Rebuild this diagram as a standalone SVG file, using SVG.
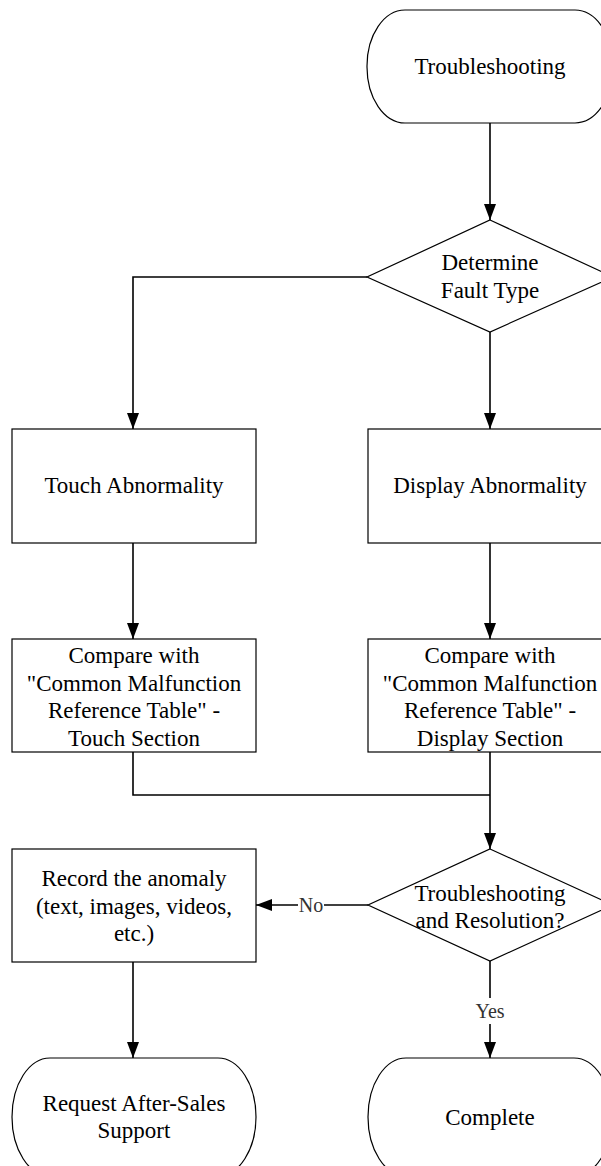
<svg xmlns="http://www.w3.org/2000/svg" width="601" height="1166" viewBox="0 0 601 1166">
<style>
.shape{fill:#fff;stroke:#000;stroke-width:1.2}
.t{font-family:"Liberation Serif","Times New Roman",serif;font-size:23px;fill:#000;text-anchor:middle}
.lbl{font-family:"Liberation Serif","Times New Roman",serif;font-size:20px;fill:#333;text-anchor:middle}
.c{fill:none;stroke:#000;stroke-width:1.6}
</style>
<defs>
<marker id="ah" markerWidth="16" markerHeight="12" refX="16" refY="6" orient="auto" markerUnits="userSpaceOnUse">
<path d="M0,0 L16,6 L0,12 Z" fill="#000"/>
</marker>
</defs>
<rect width="601" height="1166" fill="#fff"/>
<g id="connectors">
<path class="c" d="M490,123 L490,220" marker-end="url(#ah)"/>
<path class="c" d="M367,277 L133,277 L133,429" marker-end="url(#ah)"/>
<path class="c" d="M490,332 L490,429" marker-end="url(#ah)"/>
<path class="c" d="M133,543 L133,639" marker-end="url(#ah)"/>
<path class="c" d="M490,543 L490,639" marker-end="url(#ah)"/>
<path class="c" d="M133,752 L133,795 L490,795"/>
<path class="c" d="M490,752 L490,849" marker-end="url(#ah)"/>
<path class="c" d="M368,905 L256,905" marker-end="url(#ah)"/>
<path class="c" d="M490,961 L490,1058" marker-end="url(#ah)"/>
<path class="c" d="M133,962 L133,1058" marker-end="url(#ah)"/>
<rect x="298" y="893" width="26" height="24" fill="#fff"/>
<text class="lbl" x="311" y="912">No</text>
<rect x="472" y="998" width="36" height="26" fill="#fff"/>
<text class="lbl" x="490" y="1018">Yes</text>
</g>
<g id="start">
<rect class="shape" x="367" y="10" width="246" height="113" rx="38" ry="56"/>
<text class="t" x="490" y="74">Troubleshooting</text>
</g>
<g id="fault-type">
<polygon class="shape" points="490,220 613,277 490,332 367,277"/>
<text class="t" x="490" y="270">Determine</text>
<text class="t" x="490" y="298">Fault Type</text>
</g>
<g id="touch">
<rect class="shape" x="12" y="429" width="244" height="114"/>
<text class="t" x="134" y="493">Touch Abnormality</text>
</g>
<g id="display">
<rect class="shape" x="368" y="429" width="244" height="114"/>
<text class="t" x="490" y="493">Display Abnormality</text>
</g>
<g id="compare-touch">
<rect class="shape" x="12" y="639" width="244" height="113"/>
<text class="t" x="134" y="663">Compare with</text>
<text class="t" x="134" y="691">"Common Malfunction</text>
<text class="t" x="134" y="718">Reference Table" -</text>
<text class="t" x="134" y="746">Touch Section</text>
</g>
<g id="compare-display">
<rect class="shape" x="368" y="639" width="244" height="113"/>
<text class="t" x="490" y="663">Compare with</text>
<text class="t" x="490" y="691">"Common Malfunction</text>
<text class="t" x="490" y="718">Reference Table" -</text>
<text class="t" x="490" y="746">Display Section</text>
</g>
<g id="resolved">
<polygon class="shape" points="490,849 613,905 490,961 368,905"/>
<text class="t" x="490" y="901">Troubleshooting</text>
<text class="t" x="490" y="928">and Resolution?</text>
</g>
<g id="record">
<rect class="shape" x="12" y="849" width="244" height="113"/>
<text class="t" x="134" y="886">Record the anomaly</text>
<text class="t" x="134" y="914">(text, images, videos,</text>
<text class="t" x="134" y="941">etc.)</text>
</g>
<g id="after-sales">
<rect class="shape" x="12" y="1058" width="244" height="118" rx="38" ry="59"/>
<text class="t" x="134" y="1111">Request After-Sales</text>
<text class="t" x="134" y="1138">Support</text>
</g>
<g id="complete">
<rect class="shape" x="368" y="1058" width="244" height="118" rx="38" ry="59"/>
<text class="t" x="490" y="1125">Complete</text>
</g>
</svg>
